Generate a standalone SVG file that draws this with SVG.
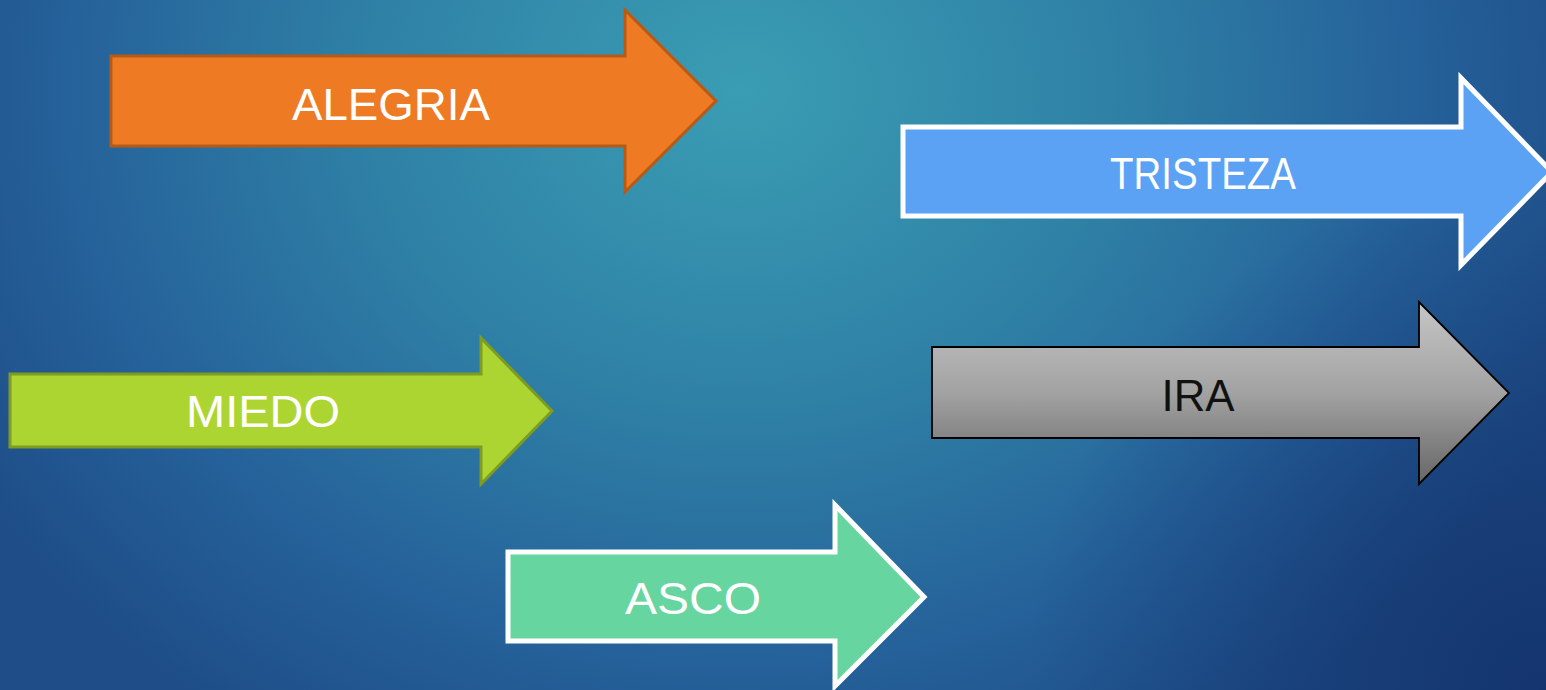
<svg xmlns="http://www.w3.org/2000/svg" width="1546" height="690" viewBox="0 0 1546 690">
  <defs>
    <radialGradient id="bg" gradientUnits="userSpaceOnUse" cx="740" cy="90" r="900" gradientTransform="translate(740 90) scale(1 0.85) translate(-740 -90)">
      <stop offset="0" stop-color="#3A9DB3"/>
      <stop offset="0.4" stop-color="#2F82A6"/>
      <stop offset="0.75" stop-color="#25619A"/>
      <stop offset="1" stop-color="#1E4D87"/>
    </radialGradient>
    <radialGradient id="dark" gradientUnits="userSpaceOnUse" cx="1546" cy="690" r="520">
      <stop offset="0" stop-color="#12306A" stop-opacity="0.85"/>
      <stop offset="1" stop-color="#12306A" stop-opacity="0"/>
    </radialGradient>
    <linearGradient id="gray" x1="0" y1="0" x2="0" y2="1">
      <stop offset="0" stop-color="#C6C6C6"/>
      <stop offset="0.5" stop-color="#A2A2A2"/>
      <stop offset="1" stop-color="#666666"/>
    </linearGradient>
  </defs>
  <style>
    .lbl { font-family: "Liberation Sans", "DejaVu Sans", sans-serif; font-size: 44px; text-anchor: middle; }
    .w { fill: #FFFFFF; }
    .k { fill: #111111; }
    .arrow { stroke-linejoin: miter; }
  </style>
  <rect x="0" y="0" width="1546" height="690" fill="url(#bg)"/>
  <rect x="0" y="0" width="1546" height="690" fill="url(#dark)"/>
  <g id="connectors"></g>
  <g id="alegria">
    <polygon class="arrow" points="111,56 625,56 625,10 716,101 625,192 625,146 111,146" fill="#EE7B23" stroke="#B85A16" stroke-width="3"/>
    <text class="lbl w" x="391" y="120" textLength="198" lengthAdjust="spacingAndGlyphs">ALEGRIA</text>
  </g>
  <g id="tristeza">
    <polygon class="arrow" points="903,127 1461,127 1461,78 1552,172 1461,265 1461,216 903,216" fill="#5BA1F4" stroke="#FFFFFF" stroke-width="5"/>
    <text class="lbl w" x="1203" y="189" textLength="186" lengthAdjust="spacingAndGlyphs">TRISTEZA</text>
  </g>
  <g id="miedo">
    <polygon class="arrow" points="10,374 481,374 481,338 552,411 481,484 481,447 10,447" fill="#ADD532" stroke="#7E9B22" stroke-width="3"/>
    <text class="lbl w" x="263" y="427" textLength="154" lengthAdjust="spacingAndGlyphs">MIEDO</text>
  </g>
  <g id="ira">
    <polygon class="arrow" points="932,347 1419,347 1419,302 1509,393 1419,484 1419,438 932,438" fill="url(#gray)" stroke="#000000" stroke-width="1.8"/>
    <text class="lbl k" x="1198" y="411" textLength="73" lengthAdjust="spacingAndGlyphs">IRA</text>
  </g>
  <g id="asco">
    <polygon class="arrow" points="508,552 835,552 835,505 924,597 835,686 835,641 508,641" fill="#66D5A0" stroke="#FFFFFF" stroke-width="5"/>
    <text class="lbl w" x="693" y="614" textLength="136" lengthAdjust="spacingAndGlyphs">ASCO</text>
  </g>
</svg>
